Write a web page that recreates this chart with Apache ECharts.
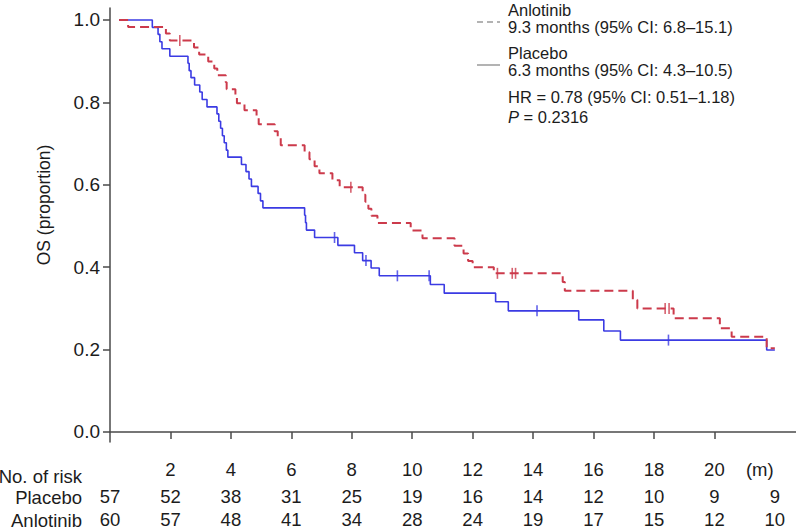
<!DOCTYPE html>
<html><head><meta charset="utf-8">
<script src="https://cdn.jsdelivr.net/npm/echarts@6/dist/echarts.min.js"></script>
<style>html,body{margin:0;padding:0;background:#fff}#c{width:796px;height:531px}</style>
</head><body><div id="c"></div>
<script>
// ---- data (months, proportion) ----
const placeboCurve = [[0.3,1.0],[1.40,0.982],[1.59,0.965],[1.65,0.947],[1.72,0.930],[1.98,0.912],[2.58,0.895],[2.62,0.877],[2.68,0.860],[2.80,0.842],[2.97,0.825],[3.05,0.807],[3.21,0.789],[3.54,0.772],[3.60,0.754],[3.66,0.737],[3.72,0.719],[3.78,0.702],[3.85,0.684],[3.90,0.667],[4.35,0.649],[4.50,0.632],[4.60,0.614],[4.68,0.596],[4.90,0.579],[4.98,0.561],[5.06,0.544],[6.44,0.526],[6.47,0.508],[6.50,0.490],[6.77,0.472],[7.54,0.453],[8.09,0.435],[8.36,0.416],[8.64,0.398],[8.91,0.379],[10.60,0.358],[11.06,0.337],[12.76,0.316],[13.18,0.294],[15.51,0.272],[16.34,0.245],[16.89,0.223],[21.73,0.199],[22.0,0.199]];
const anlotinibCurve = [[0.3,1.0],[0.6,0.983],[1.85,0.967],[1.98,0.950],[2.78,0.933],[2.95,0.916],[3.25,0.899],[3.45,0.882],[3.55,0.866],[3.83,0.849],[3.86,0.832],[4.15,0.815],[4.20,0.798],[4.45,0.781],[4.85,0.764],[4.92,0.747],[5.45,0.730],[5.55,0.713],[5.65,0.696],[6.44,0.679],[6.60,0.662],[6.77,0.645],[6.93,0.628],[7.36,0.611],[7.60,0.594],[8.36,0.576],[8.45,0.559],[8.55,0.542],[8.65,0.525],[8.85,0.507],[9.95,0.489],[10.34,0.470],[11.40,0.452],[11.70,0.433],[11.85,0.415],[12.0,0.400],[12.70,0.385],[14.98,0.364],[15.05,0.343],[17.30,0.321],[17.45,0.300],[18.65,0.276],[20.18,0.252],[20.57,0.231],[21.73,0.203],[22.0,0.203]];
const placeboCensor = [7.43, 8.47, 9.51, 10.56, 14.13, 18.48];
const anlotinibCensor = [2.31, 7.97, 12.82, 13.31, 13.42, 18.37, 18.50];
const xTickValues = [2,4,6,8,10,12,14,16,18,20];
const yTickValues = [0,0.2,0.4,0.6,0.8,1.0];
const riskTimes = [0,2,4,6,8,10,12,14,16,18,20,22];
const riskPlacebo = [57,52,38,31,25,19,16,14,12,10,9,9];
const riskAnlotinib = [60,57,48,41,34,28,24,19,17,15,12,10];
const unitLabel = '(m)';
const unitLabelAt = 21.5;

const RED = '#cc3a4b', BLUE = '#3b3be3', AX = '#4a4a4a', TXT = '#1c1c1c';
const FONT = 'Liberation Sans, Arial, Helvetica, sans-serif';
const FS = 18.5, LFS = 16.5;

function survAt(curve, t){ let v = curve[0][1]; for (const [x,y] of curve){ if (x <= t) v = y; } return v; }

const chart = echarts.init(document.getElementById('c'), null, {renderer:'svg'});
const XMAX = 22.7;
function riskAxis(arr, off){
  return {type:'value', gridIndex:0, min:0, max:XMAX, position:'bottom', offset:off,
    axisLine:{show:false, onZero:false}, axisTick:{show:false}, splitLine:{show:false},
    axisLabel:{customValues:riskTimes, margin:0, fontSize:FS, lineHeight:19, color:TXT, fontFamily:FONT, verticalAlign:'top',
      formatter:v=>{const i=riskTimes.indexOf(v); return i>=0?String(arr[i]):'';}}};
}
function legendText(txt, y, extra){
  return {type:'text', x:508, y:y, style:Object.assign({text:txt, fontSize:LFS, lineHeight:16, fill:TXT, fontFamily:FONT, textVerticalAlign:'middle'}, extra||{})};
}
function rowLabel(txt, y){
  return {type:'text', x:82, y:y, style:{text:txt, fontSize:FS, lineHeight:19, fill:TXT, fontFamily:FONT, textAlign:'right', textVerticalAlign:'middle'}};
}
chart.setOption({
  animation:false,
  backgroundColor:'#fff',
  textStyle:{fontFamily:FONT},
  grid:{left:110, right:0, top:8, bottom:89, containLabel:false},
  xAxis:[
    {type:'value', min:0, max:XMAX, position:'bottom',
     axisLine:{onZero:true, lineStyle:{color:AX, width:1.5}},
     axisTick:{customValues:xTickValues, length:7, lineStyle:{color:AX, width:1.5}},
     splitLine:{show:false},
     axisLabel:{customValues:xTickValues.concat([unitLabelAt]), margin:18, fontSize:FS, lineHeight:19, color:TXT, fontFamily:FONT,
       formatter:v=> v===unitLabelAt ? unitLabel : String(v)}},
    riskAxis(riskPlacebo, 45),
    riskAxis(riskAnlotinib, 68)
  ],
  yAxis:{type:'value', min:-0.0243, max:1.029,
    name:'OS (proportion)', nameLocation:'middle', nameGap:57, nameRotate:90,
    nameTextStyle:{fontSize:17.5, color:TXT, fontFamily:FONT, padding:[0,0,0,40]},
    axisLine:{show:true, onZero:false, lineStyle:{color:AX, width:1.5}},
    axisTick:{show:true, customValues:yTickValues, length:7, lineStyle:{color:AX, width:1.5}},
    splitLine:{show:false},
    axisLabel:{customValues:yTickValues, margin:10, fontSize:19, color:TXT, fontFamily:FONT,
      formatter:v=>v.toFixed(1)}},
  series:[
    {name:'Placebo', type:'line', step:'end', data:placeboCurve, showSymbol:false, symbol:'none',
     lineStyle:{color:BLUE, width:1.6}, z:2},
    {name:'Anlotinib', type:'line', step:'end', data:anlotinibCurve, showSymbol:false, symbol:'none',
     lineStyle:{color:RED, width:2, type:[9,5]}, z:3},
    {type:'scatter', data:placeboCensor.map(t=>[t, survAt(placeboCurve,t)]), symbol:'rect', symbolSize:[1.6,11],
     itemStyle:{color:BLUE}, z:4},
    {type:'scatter', data:anlotinibCensor.map(t=>[t, survAt(anlotinibCurve,t)]), symbol:'rect', symbolSize:[1.6,11],
     itemStyle:{color:RED}, z:4}
  ],
  graphic:[
    {type:'line', shape:{x1:477,y1:22,x2:500,y2:22}, style:{stroke:'#9a9a9a', lineWidth:1.5, lineDash:[6,4]}},
    {type:'line', shape:{x1:477,y1:65,x2:500,y2:65}, style:{stroke:'#9a9a9a', lineWidth:1.5}},
    legendText('Anlotinib', 10),
    legendText('9.3 months (95% CI: 6.8–15.1)', 27),
    legendText('Placebo', 53),
    legendText('6.3 months (95% CI: 4.3–10.5)', 70),
    legendText('HR = 0.78 (95% CI: 0.51–1.18)', 97),
    legendText('{i|P} = 0.2316', 117, {rich:{i:{fontStyle:'italic', fontSize:LFS, lineHeight:16, fill:TXT, fontFamily:FONT}}}),
    rowLabel('No. of risk', 476),
    rowLabel('Placebo', 497),
    rowLabel('Anlotinib', 520)
  ]
});
</script></body></html>
